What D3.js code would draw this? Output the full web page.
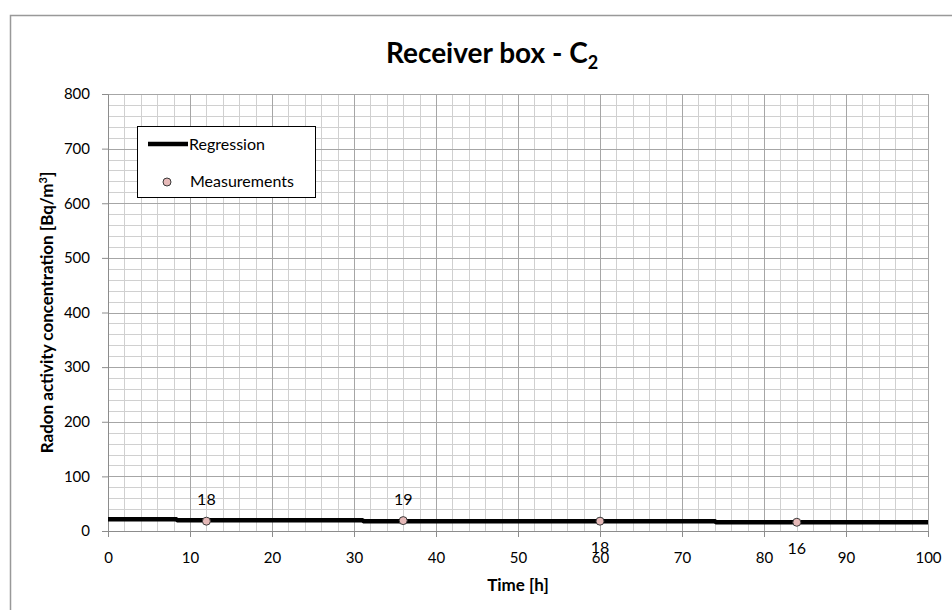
<!DOCTYPE html>
<html>
<head>
<meta charset="utf-8">
<script src="https://cdn.jsdelivr.net/npm/d3@7"></script>
<style>
  body { margin: 0; background: #fff; }
  svg { font-family: Lato, "Open Sans", sans-serif; }
</style>
</head>
<body>
<div id="chart"></div>
<script>
// data
let regressionTime = [0, 8.3, 8.5, 31, 31.2, 74, 74.2, 100];
let regressionValue = [21.5, 21.5, 19.5, 19.5, 17.8, 17.8, 15.8, 15.8];
let measureTime = [12, 36, 60, 84];
let measureValue = [18, 19, 18, 16];
let labelBelow = [false, false, true, true];
let xTicks = [0, 10, 20, 30, 40, 50, 60, 70, 80, 90, 100];
let yTicks = [0, 100, 200, 300, 400, 500, 600, 700, 800];

let svgWidth = 952;
let svgHeight = 610;
let margin = { top: 94, right: 24, bottom: 79, left: 108 };
let width = svgWidth - margin.left - margin.right;
let height = svgHeight - margin.top - margin.bottom;

let svg = d3.select("#chart").append("svg")
  .attr("width", svgWidth)
  .attr("height", svgHeight);

// chart area frame
svg.append("rect")
  .attr("x", 10.5).attr("y", 15.5)
  .attr("width", 960).attr("height", 620)
  .attr("fill", "#fff")
  .attr("stroke", "#999")
  .attr("stroke-width", 1.5);

let chartGroup = svg.append("g")
  .attr("transform", `translate(${margin.left}, ${margin.top})`);

let x = d3.scaleLinear().domain([0, 100]).range([0, width]);
let y = d3.scaleLinear().domain([0, 800]).range([height, 0]);

// minor grid
let minorX = d3.range(0, 101, 2).filter(v => v % 10 !== 0);
let minorY = d3.range(0, 801, 20).filter(v => v % 100 !== 0);
chartGroup.append("g").selectAll("line").data(minorX).enter().append("line")
  .attr("x1", d => Math.round(x(d)) + 0.5).attr("x2", d => Math.round(x(d)) + 0.5)
  .attr("y1", 0).attr("y2", height)
  .attr("stroke", "#d0d0d0");
chartGroup.append("g").selectAll("line").data(minorY).enter().append("line")
  .attr("y1", d => Math.round(y(d)) + 0.5).attr("y2", d => Math.round(y(d)) + 0.5)
  .attr("x1", 0).attr("x2", width)
  .attr("stroke", "#d0d0d0");

// major grid
chartGroup.append("g").selectAll("line").data(xTicks.slice(1)).enter().append("line")
  .attr("x1", d => Math.round(x(d)) + 0.5).attr("x2", d => Math.round(x(d)) + 0.5)
  .attr("y1", 0).attr("y2", height)
  .attr("stroke", "#a6a6a6");
chartGroup.append("g").selectAll("line").data(yTicks.slice(1)).enter().append("line")
  .attr("y1", d => Math.round(y(d)) + 0.5).attr("y2", d => Math.round(y(d)) + 0.5)
  .attr("x1", 0).attr("x2", width)
  .attr("stroke", "#a6a6a6");

// axes
let bottomAxis = d3.axisBottom(x).tickValues(xTicks).tickSize(6).tickPadding(15);
let leftAxis = d3.axisLeft(y).tickValues(yTicks).tickSize(6).tickPadding(12);

let xAxis = chartGroup.append("g")
  .attr("transform", `translate(0, ${height})`)
  .call(bottomAxis);
let yAxis = chartGroup.append("g").call(leftAxis);

[xAxis, yAxis].forEach(function(ax) {
  ax.select(".domain").attr("stroke", "#8c8c8c");
  ax.selectAll(".tick line").attr("stroke", "#8c8c8c");
  ax.selectAll(".tick text")
    .attr("font-family", "Lato, sans-serif")
    .attr("font-size", "15px")
    .attr("fill", "#000");
});

// regression line
let regression = regressionTime.map((t, i) => [t, regressionValue[i]]);
let line = d3.line().x(d => x(d[0])).y(d => y(d[1]));
chartGroup.append("path")
  .datum(regression)
  .attr("d", line)
  .attr("fill", "none")
  .attr("stroke", "#000")
  .attr("stroke-width", 4.5);

// measurements
let measurements = measureTime.map((t, i) => ({ t: t, v: measureValue[i], below: labelBelow[i] }));
chartGroup.selectAll(".point").data(measurements).enter().append("circle")
  .attr("class", "point")
  .attr("cx", d => x(d.t))
  .attr("cy", d => y(d.v))
  .attr("r", 4)
  .attr("fill", "#e6b9b8")
  .attr("stroke", "#3a3a3a")
  .attr("stroke-width", 1);

chartGroup.selectAll(".ptLabel").data(measurements).enter().append("text")
  .attr("class", "ptLabel")
  .attr("x", d => x(d.t))
  .attr("y", d => y(d.v) + (d.below ? 32 : -16))
  .attr("text-anchor", "middle")
  .attr("font-size", "16px")
  .text(d => d.v);

// title
let title = svg.append("text")
  .attr("x", 492).attr("y", 63)
  .attr("text-anchor", "middle")
  .attr("font-size", "28px")
  .attr("font-weight", "bold")
  .text("Receiver box - C");
title.append("tspan")
  .attr("font-size", "18px")
  .attr("dy", 6)
  .text("2");

// axis titles
svg.append("text")
  .attr("x", margin.left + width / 2).attr("y", 591)
  .attr("text-anchor", "middle")
  .attr("font-size", "17px")
  .attr("font-weight", "bold")
  .text("Time [h]");

let yTitle = svg.append("text")
  .attr("transform", `translate(53, ${margin.top + height / 2}) rotate(-90)`)
  .attr("text-anchor", "middle")
  .attr("font-size", "17px")
  .attr("font-weight", "bold")
  .text("Radon activity concentration [Bq/m");
yTitle.append("tspan").attr("font-size", "11px").attr("dy", -6).text("3");
yTitle.append("tspan").attr("dy", 6).text("]");

// legend
let legend = svg.append("g");
legend.append("rect")
  .attr("x", 137.5).attr("y", 126.5)
  .attr("width", 178).attr("height", 71)
  .attr("fill", "#fff")
  .attr("stroke", "#000");
legend.append("line")
  .attr("x1", 148).attr("x2", 188)
  .attr("y1", 144).attr("y2", 144)
  .attr("stroke", "#000")
  .attr("stroke-width", 4.5);
legend.append("text")
  .attr("x", 189).attr("y", 150)
  .attr("font-size", "16px")
  .text("Regression");
legend.append("circle")
  .attr("cx", 167).attr("cy", 182).attr("r", 4)
  .attr("fill", "#e6b9b8")
  .attr("stroke", "#3a3a3a");
legend.append("text")
  .attr("x", 190).attr("y", 187)
  .attr("font-size", "16px")
  .text("Measurements");
</script>
</body>
</html>
